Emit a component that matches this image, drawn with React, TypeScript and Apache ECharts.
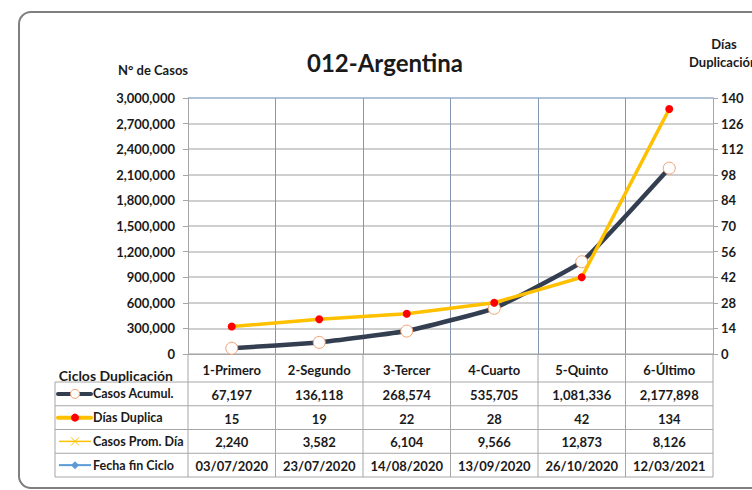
import React, { useEffect, useRef } from "react";
import * as echarts from "echarts";

const categories = ["1-Primero", "2-Segundo", "3-Tercer", "4-Cuarto", "5-Quinto", "6-Último"];
const casosAcumul = [67197, 136118, 268574, 535705, 1081336, 2177898];
const diasDuplica = [15, 19, 22, 28, 42, 134];
const casosPromDia = [2240, 3582, 6104, 9566, 12873, 8126];
const fechaFinCiclo = ["03/07/2020", "23/07/2020", "14/08/2020", "13/09/2020", "26/10/2020", "12/03/2021"];
const rowNames = ["Casos Acumul.", "Días Duplica", "Casos Prom. Día", "Fecha fin Ciclo"];

const FONT = "Lato, 'Open Sans', sans-serif";
const TXT = "#1a1a1a";
const FS = 13;
const fmt = (v: number) => v.toLocaleString("en-US");

const GL = 188, GR = 713, GT = 98, GB = 354;
const TL = 55, TT = 382, RH = 23.75;
const COLW = (GR - GL) / categories.length;

function buildGraphic() {
  const els: any[] = [];
  const lineStyle = { stroke: "#A6A6A6", lineWidth: 1 };
  // outer frame
  els.push({ type: "rect", shape: { x: 19, y: 12, width: 780, height: 476, r: 12 }, style: { fill: "none", stroke: "#7F7F7F", lineWidth: 2 }, z: 1 });
  // top plot border (blue)
  els.push({ type: "line", shape: { x1: GL, y1: GT, x2: GR, y2: GT }, style: { stroke: "#8FB6E0", lineWidth: 1 }, z: 5 });
  // table horizontal lines
  for (let i = 0; i <= rowNames.length; i++) {
    const y = TT + i * RH;
    els.push({ type: "line", shape: { x1: TL, y1: y, x2: GR, y2: y }, style: lineStyle, z: 5 });
  }
  els.push({ type: "line", shape: { x1: TL, y1: TT, x2: TL, y2: TT + rowNames.length * RH }, style: lineStyle, z: 5 });
  for (let j = 0; j <= categories.length; j++) {
    const x = GL + j * COLW;
    els.push({ type: "line", shape: { x1: x, y1: GB, x2: x, y2: TT + rowNames.length * RH }, style: lineStyle, z: 5 });
  }
  // table values
  const rows: string[][] = [
    casosAcumul.map(fmt),
    diasDuplica.map(fmt),
    casosPromDia.map(fmt),
    fechaFinCiclo,
  ];
  rows.forEach((r, i) => {
    const cy = TT + i * RH + RH / 2;
    r.forEach((v, j) => {
      els.push({
        type: "text", x: GL + (j + 0.5) * COLW, y: cy + 1,
        style: { text: v, fill: TXT, font: `bold ${FS}px ${FONT}`, align: "center", verticalAlign: "middle" }, z: 6,
      });
    });
    els.push({
      type: "text", x: 93, y: cy,
      style: { text: rowNames[i], fill: TXT, font: `bold 12.5px ${FONT}`, align: "left", verticalAlign: "middle" }, z: 6,
    });
  });
  // legend keys
  const y1 = TT + RH / 2, y2 = TT + 1.5 * RH, y3 = TT + 2.5 * RH, y4 = TT + 3.5 * RH;
  els.push({ type: "line", shape: { x1: 58, y1: y1, x2: 91, y2: y1 }, style: { stroke: "#333F50", lineWidth: 4, lineCap: "round" }, z: 6 });
  els.push({ type: "circle", shape: { cx: 75, cy: y1, r: 4.5 }, style: { fill: "#fff", stroke: "#F4A070", lineWidth: 1 }, z: 7 });
  els.push({ type: "line", shape: { x1: 58, y1: y2, x2: 91, y2: y2 }, style: { stroke: "#FFC000", lineWidth: 4, lineCap: "round" }, z: 6 });
  els.push({ type: "circle", shape: { cx: 75, cy: y2, r: 4 }, style: { fill: "#FF0000", stroke: "#FF0000", lineWidth: 0 }, z: 7 });
  els.push({ type: "line", shape: { x1: 59, y1: y3, x2: 91, y2: y3 }, style: { stroke: "#FFC000", lineWidth: 1.5 }, z: 6 });
  els.push({ type: "line", shape: { x1: 71, y1: y3 - 4, x2: 79, y2: y3 + 4 }, style: { stroke: "#FFC000", lineWidth: 1 }, z: 7 });
  els.push({ type: "line", shape: { x1: 71, y1: y3 + 4, x2: 79, y2: y3 - 4 }, style: { stroke: "#FFC000", lineWidth: 1 }, z: 7 });
  els.push({ type: "line", shape: { x1: 59, y1: y4, x2: 91, y2: y4 }, style: { stroke: "#5B9BD5", lineWidth: 2 }, z: 6 });
  els.push({ type: "polygon", shape: { points: [[75, y4 - 4], [79, y4], [75, y4 + 4], [71, y4]] }, style: { fill: "#5B9BD5" }, z: 7 });
  // titles
  els.push({ type: "text", x: 385, y: 62, style: { text: "012-Argentina", fill: TXT, font: `bold 24px ${FONT}`, align: "center", verticalAlign: "middle" }, z: 6 });
  els.push({ type: "text", x: 153, y: 70, style: { text: "N° de Casos", fill: TXT, font: `bold ${FS}px ${FONT}`, align: "center", verticalAlign: "middle" }, z: 6 });
  els.push({ type: "text", x: 724, y: 44, style: { text: "Días", fill: TXT, font: `bold ${FS}px ${FONT}`, align: "center", verticalAlign: "middle" }, z: 6 });
  els.push({ type: "text", x: 689, y: 62, style: { text: "Duplicación", fill: TXT, font: `bold ${FS}px ${FONT}`, align: "left", verticalAlign: "middle" }, z: 6 });
  els.push({ type: "text", x: 173, y: 375, style: { text: "Ciclos Duplicación", fill: TXT, font: `bold 14px ${FONT}`, align: "right", verticalAlign: "middle" }, z: 6 });
  return els;
}

export default function App() {
  const ref = useRef<HTMLDivElement>(null);
  useEffect(() => {
    const chart = echarts.init(ref.current!, null, { renderer: "svg" });
    chart.setOption({
      animation: false,
      backgroundColor: "#fff",
      grid: { left: GL, top: GT, right: 752 - GR, bottom: 490 - GB, containLabel: false },
      xAxis: {
        type: "category",
        data: categories,
        boundaryGap: true,
        axisLine: { show: true, lineStyle: { color: "#A6A6A6", width: 1 } },
        axisTick: { show: false },
        splitLine: { show: true, lineStyle: { color: "#8497B0", width: 1 } },
        axisLabel: { color: TXT, fontFamily: FONT, fontWeight: "bold", fontSize: FS, margin: 9, interval: 0 },
      },
      yAxis: [
        {
          type: "value", min: 0, max: 3000000, interval: 300000,
          axisLine: { show: true, lineStyle: { color: "#A6A6A6" } },
          axisTick: { show: true, length: 5, lineStyle: { color: "#A6A6A6" } },
          splitLine: { show: true, lineStyle: { color: "#BFBFBF", width: 1.5 } },
          axisLabel: { color: TXT, fontFamily: FONT, fontWeight: "bold", fontSize: FS, margin: 13, formatter: (v: number) => fmt(v) },
        },
        {
          type: "value", min: 0, max: 140, interval: 14, position: "right",
          axisLine: { show: true, lineStyle: { color: "#A6A6A6" } },
          axisTick: { show: true, length: 5, lineStyle: { color: "#A6A6A6" } },
          splitLine: { show: false },
          axisLabel: { color: TXT, fontFamily: FONT, fontWeight: "bold", fontSize: FS, margin: 8 },
        },
      ],
      series: [
        {
          name: "Casos Acumul.", type: "line", yAxisIndex: 0, data: casosAcumul, smooth: 0.1,
          lineStyle: { color: "#333F50", width: 4.5 },
          symbol: "circle", symbolSize: 12,
          itemStyle: { color: "#fff", borderColor: "#F4A070", borderWidth: 1 },
          z: 3,
        },
        {
          name: "Días Duplica", type: "line", yAxisIndex: 1, data: diasDuplica,
          lineStyle: { color: "#FFC000", width: 3.5 },
          symbol: "circle", symbolSize: 8,
          itemStyle: { color: "#FF0000", borderWidth: 0 },
          z: 4,
        },
      ],
      graphic: buildGraphic(),
    });
    return () => chart.dispose();
  }, []);
  return <div ref={ref} style={{ width: 752, height: 490, position: "fixed", left: 0, top: 0 }} />;
}
